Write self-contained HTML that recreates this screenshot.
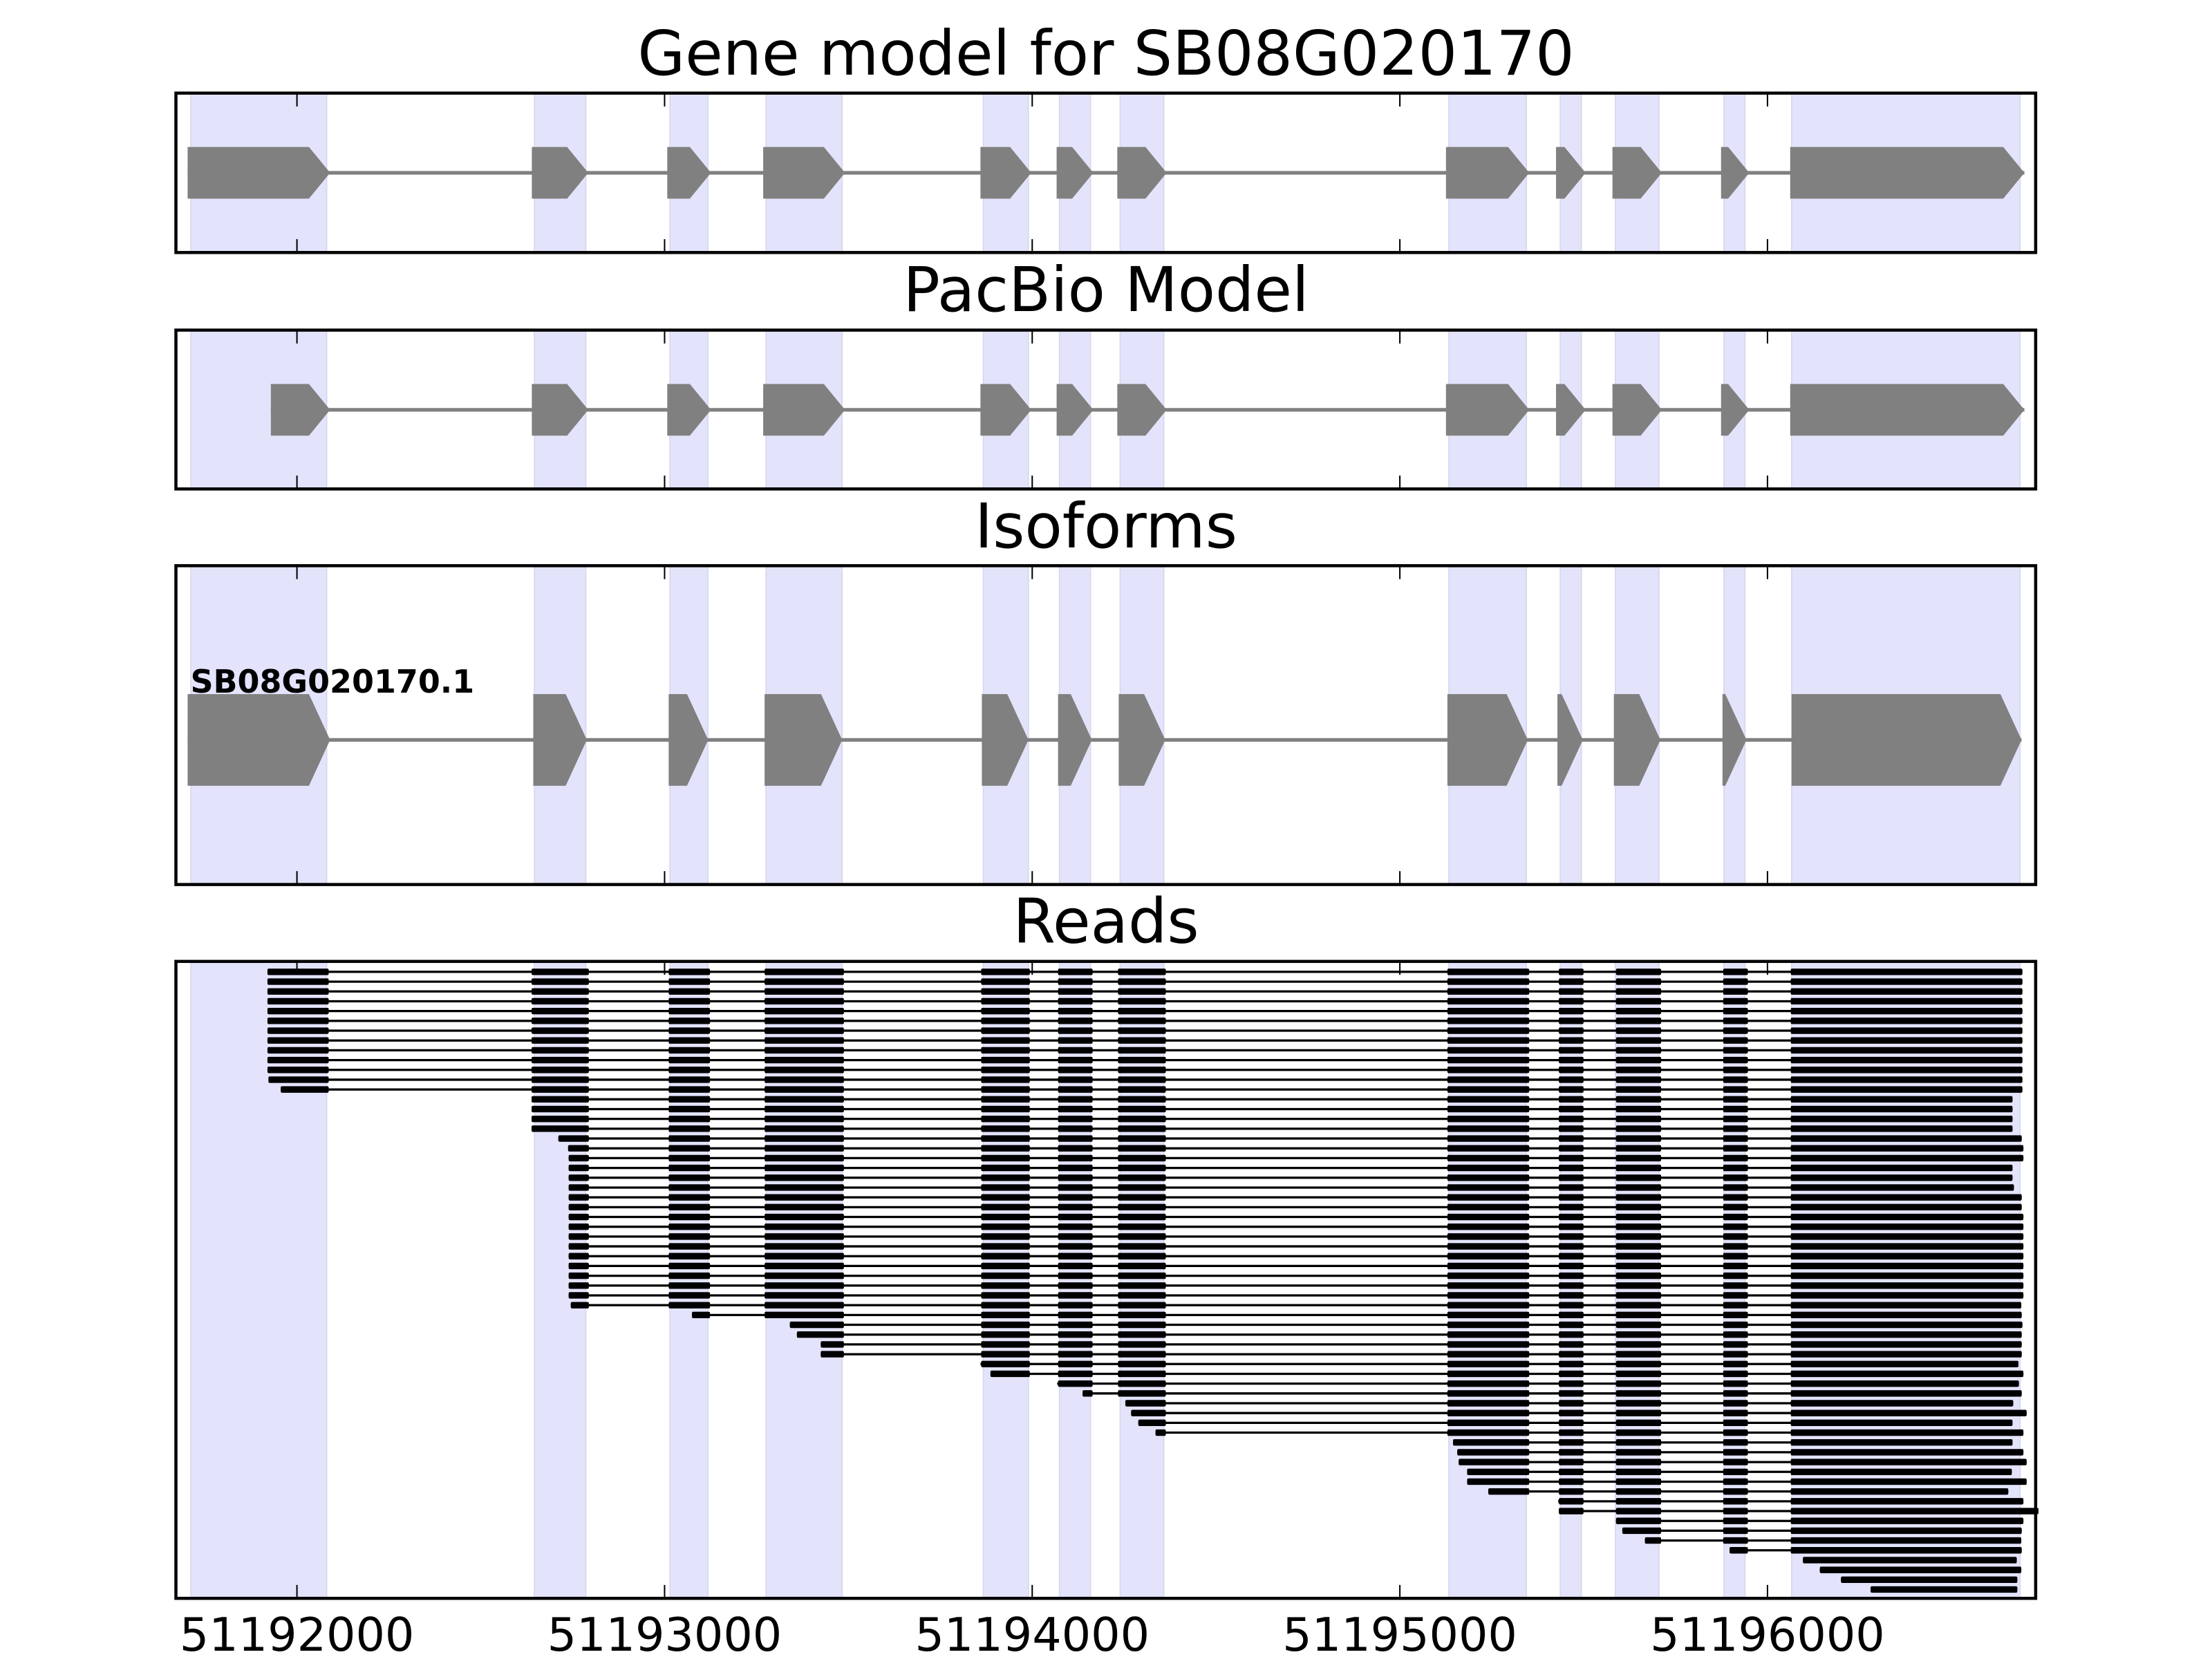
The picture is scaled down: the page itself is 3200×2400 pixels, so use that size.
<!DOCTYPE html>
<html><head><meta charset="utf-8">
<style>
html,body{margin:0;padding:0;background:#fff;}
svg{display:block;}
text{font-family:"DejaVu Sans","Liberation Sans",sans-serif;}
</style></head>
<body>
<svg id="s" xmlns="http://www.w3.org/2000/svg" width="3200" height="2400" viewBox="0 0 1568 1176">
<rect width="1568" height="1176" fill="#fff"/>
<g id="g"></g>
<text x="784" y="53" font-size="43.5" text-anchor="middle">Gene model for SB08G020170</text>
<text x="784" y="220.5" font-size="43.5" text-anchor="middle">PacBio Model</text>
<text x="784" y="388" font-size="43.5" text-anchor="middle">Isoforms</text>
<text x="784" y="668" font-size="43.5" text-anchor="middle">Reads</text>
<text x="135" y="491" font-size="22.5" font-weight="bold">SB08G020170.1</text>
<text x="210.5" y="1170" font-size="32.7" text-anchor="middle">51192000</text>
<text x="471.1" y="1170" font-size="32.7" text-anchor="middle">51193000</text>
<text x="731.7" y="1170" font-size="32.7" text-anchor="middle">51194000</text>
<text x="992.3" y="1170" font-size="32.7" text-anchor="middle">51195000</text>
<text x="1252.9" y="1170" font-size="32.7" text-anchor="middle">51196000</text>
</svg>
<script>
(function(){
var L=124.7,R=1443;
var panels=[[66,179],[234,346.6],[401,627],[681.5,1133]];
var shades=[[135.3,231.6],[378.8,415.3],[474.9,501.8],[543,597],[697,729],[751,773],[794,825],[1027,1082],[1106,1121],[1145,1176],[1222,1237],[1270,1432]];
var ticks=[210.5,471.1,731.7,992.3,1252.9];
var o=[];
function r(x,y,w,h,f,extra){o.push('<rect x="'+x.toFixed(2)+'" y="'+y.toFixed(2)+'" width="'+w.toFixed(2)+'" height="'+h.toFixed(2)+'" fill="'+f+'" '+(extra||'')+'/>');}
panels.forEach(function(p){
  shades.forEach(function(s){r(s[0],p[0],s[1]-s[0],p[1]-p[0],'#e3e3fc','stroke="#d6d6ee" stroke-width="0.8"');});
});
function gene(exons,cy,hh){
  var a=exons[0][0],b=exons[exons.length-1][1];
  o.push('<line x1="'+a+'" y1="'+cy+'" x2="'+b+'" y2="'+cy+'" stroke="#808080" stroke-width="2.6"/>');
  exons.forEach(function(e){
    var s=e[0],t=e[1],f=Math.max(s,t-15);
    var pts;
    if(f>s) pts=[[s,cy-hh],[f,cy-hh],[t,cy],[f,cy+hh],[s,cy+hh]];
    else pts=[[s,cy-hh],[t,cy],[s,cy+hh]];
    o.push('<polygon points="'+pts.map(function(q){return q[0]+','+q[1];}).join(' ')+'" fill="#808080"/>');
  });
}
var e1=[[133,234],[377,417],[473,504],[541,599],[695,731],[749,775],[792,827],[1025,1084],[1103,1124],[1143,1178],[1220,1240],[1269,1435]];
gene(e1,122.5,18.3);
var e2=e1.slice();e2[0]=[192,234];
gene(e2,290.5,18.3);
var e3=[[133,234],[378,416],[474,502],[542,597],[696,729],[750,774],[793,826],[1026,1083],[1104,1122],[1144,1177],[1221,1238],[1270,1433]];
gene(e3,524.5,32.5);
var ex=[[189.6,233],[376.8,417.4],[474,503.3],[542,598.2],[695.5,730],[750,774.5],[792.5,826.4],[1026,1084],[1105,1122.5],[1145.5,1177.5],[1221.5,1239],[1269.4,1500]];
for(var i=1;i<=64;i++){
  var s,e;
  if(i<=11)s=189.6;else if(i==12)s=190.3;else if(i==13)s=199;
  else if(i<=17)s=376.8;else if(i==18)s=395.8;else if(i==19)s=402.7;else if(i<=34)s=403.1;else if(i==35)s=404.6;
  else s={36:490.5,37:559.9,38:564.9,39:581.8,40:581.8,41:695,42:702.1,43:749.4,44:767.4,45:797.7,46:801.8,47:806.9,48:819.1,
  49:1030,50:1033,51:1034,52:1040,53:1040,54:1055,55:1104.5,56:1105,57:1145.5,58:1150,59:1166,60:1226,61:1278,62:1290,63:1305,64:1326}[i];
  if(i<=13)e=1436.6;else if(i<=17)e=1429.6;else if(i==18)e=1436.1;else if(i<=20)e=1437.3;else if(i<=22)e=1429.6;else if(i==23)e=1430.6;
  else if(i<=25)e=1436.1;else if(i<=34)e=1437.3;
  else e={35:1435.8,36:1436.1,37:1436.6,38:1436.1,39:1436.1,40:1436.1,41:1433.8,42:1437.3,43:1434.1,44:1436.1,45:1430.1,46:1439.6,47:1429.6,
  48:1437.3,49:1429.6,50:1437.3,51:1439.6,52:1429.1,53:1439.6,54:1426.6,55:1437.3,56:1445,57:1437.3,58:1436.1,59:1435.8,60:1436.1,61:1432.6,62:1435.8,63:1433,64:1433}[i];
  if(i!=56) e-=3;
  var y=688.9+(i-1)*6.95;
  o.push('<line x1="'+s+'" y1="'+y.toFixed(2)+'" x2="'+e+'" y2="'+y.toFixed(2)+'" stroke="#000" stroke-width="1.6"/>');
  ex.forEach(function(x){
    var a=Math.max(x[0],s),b=Math.min(x[1],e);
    if(b>a) r(a,y-2.3,b-a,4.6,'#000','rx="1"');
  });
}
panels.forEach(function(p){
  ticks.forEach(function(t){
    o.push('<line x1="'+t+'" y1="'+p[0]+'" x2="'+t+'" y2="'+(p[0]+9.5)+'" stroke="#000" stroke-width="1"/>');
    o.push('<line x1="'+t+'" y1="'+p[1]+'" x2="'+t+'" y2="'+(p[1]-9.5)+'" stroke="#000" stroke-width="1"/>');
  });
  o.push('<rect x="'+L+'" y="'+p[0]+'" width="'+(R-L)+'" height="'+(p[1]-p[0])+'" fill="none" stroke="#000" stroke-width="2.2"/>');
});
document.getElementById('g').innerHTML=o.join('');
})();
</script>
</body></html>
